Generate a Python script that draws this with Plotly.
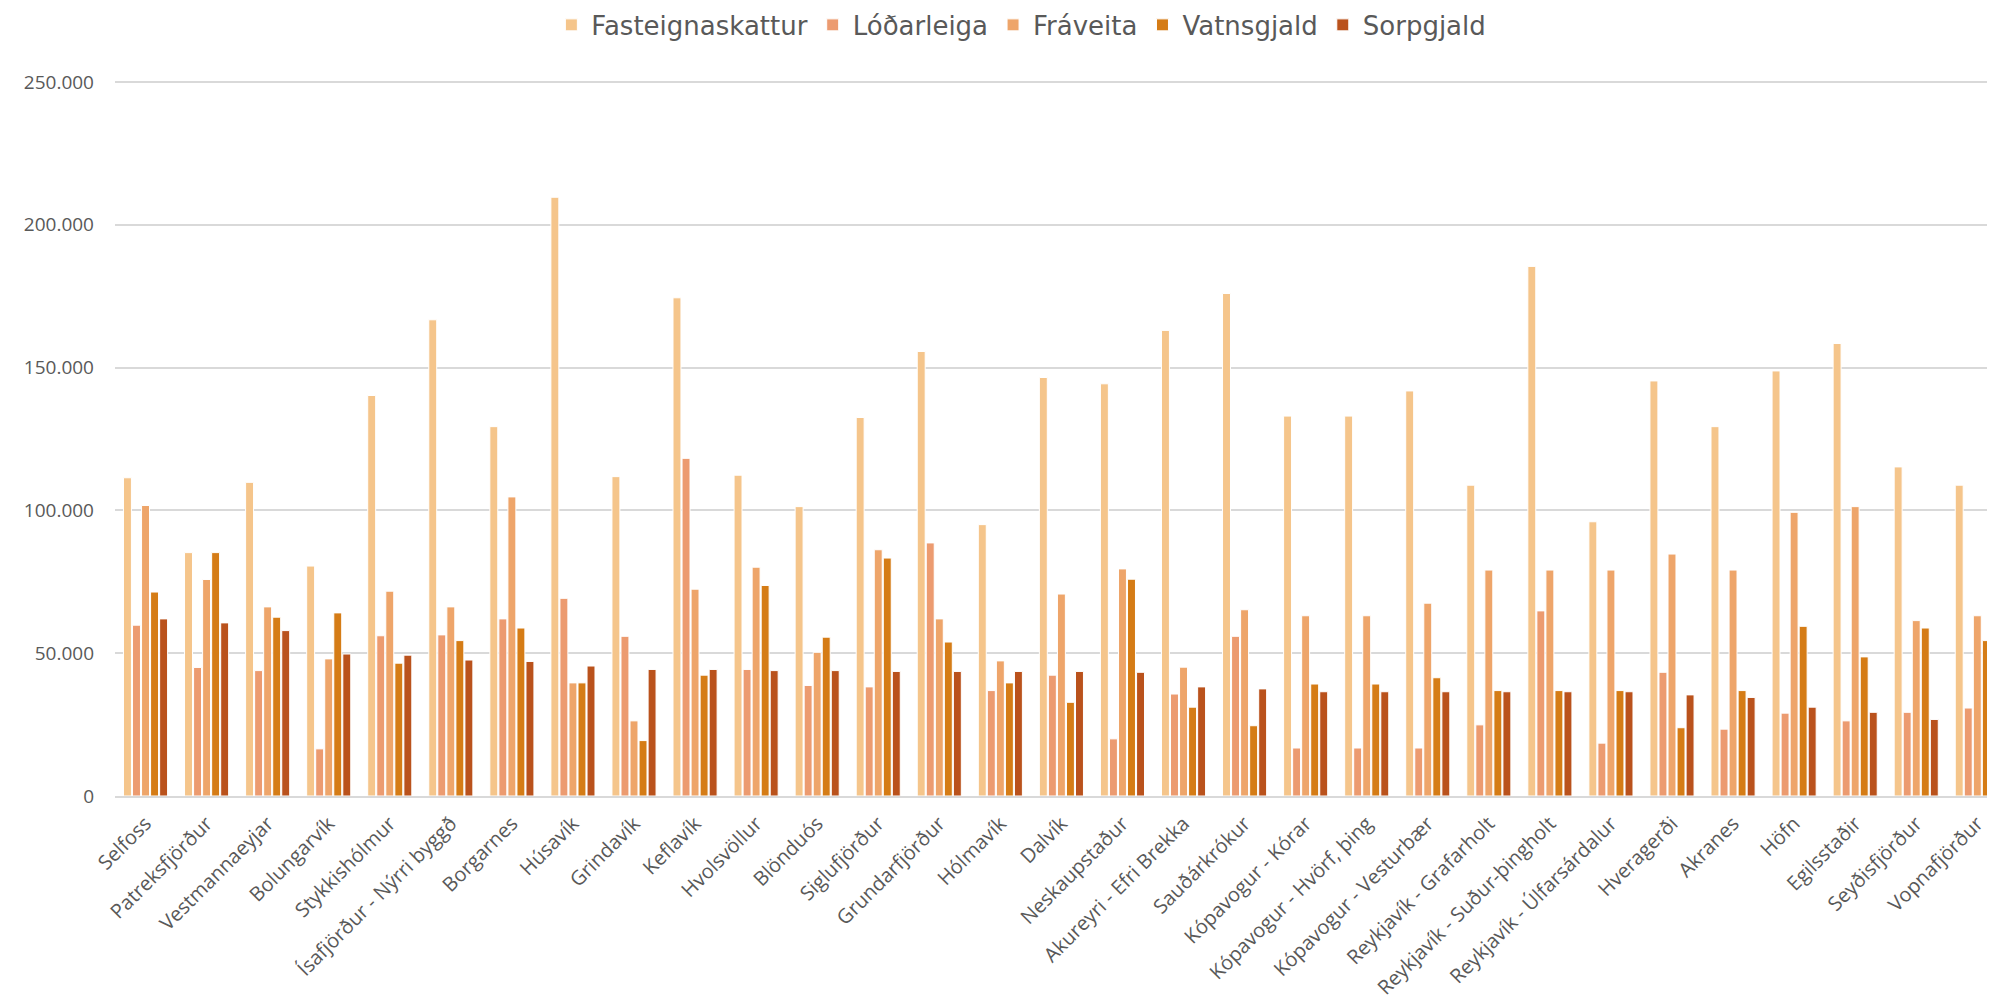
import plotly.graph_objects as go

# Staðir (flokkar á x-ás)
stadir = [
    "Selfoss", "Patreksfjörður", "Vestmannaeyjar", "Bolungarvík", "Stykkishólmur",
    "Ísafjörður - Nýrri byggð", "Borgarnes", "Húsavík", "Grindavík", "Keflavík",
    "Hvolsvöllur", "Blönduós", "Siglufjörður", "Grundarfjörður", "Hólmavík",
    "Dalvík", "Neskaupstaður", "Akureyri - Efri Brekka", "Sauðárkrókur",
    "Kópavogur - Kórar", "Kópavogur - Hvörf, þing", "Kópavogur - Vesturbær",
    "Reykjavík - Grafarholt", "Reykjavík - Suður-þingholt", "Reykjavík - Úlfarsárdalur",
    "Hveragerði", "Akranes", "Höfn", "Egilsstaðir", "Seyðisfjörður", "Vopnafjörður",
]

fasteignaskattur = [111400, 85200, 109800, 80500, 140200, 166700, 129300, 209600, 111800, 174400,
                    112300, 101300, 132500, 155600, 95000, 146500, 144300, 163000, 175900,
                    133000, 133000, 141800, 108800, 185400, 96000, 145300, 129300, 148800,
                    158400, 115200, 108800]
lodarleiga = [59800, 45000, 43900, 16500, 56100, 56400, 62000, 69200, 55900, 118200,
              44300, 38700, 38200, 88600, 36900, 42300, 20000, 35700, 55900,
              16800, 16800, 16800, 24900, 64800, 18500, 43300, 23400, 29000,
              26300, 29300, 30800]
fraveita = [101700, 75800, 66200, 48000, 71700, 66200, 104700, 39600, 26300, 72400,
            80100, 50300, 86200, 62000, 47300, 70700, 79500, 45100, 65200,
            63100, 63100, 67500, 79100, 79100, 79100, 84700, 79100, 99300,
            101300, 61400, 63100]
vatnsgjald = [71400, 85200, 62600, 64100, 46500, 54400, 58800, 39600, 19400, 42300,
              73700, 55600, 83300, 53900, 39600, 32800, 75900, 31100, 24600,
              39200, 39200, 41400, 36900, 36900, 36900, 23900, 36900, 59400,
              48700, 58800, 54400]
sorpgjald = [62000, 60600, 57900, 49700, 49300, 47600, 47100, 45500, 44300, 44300,
             43900, 43900, 43600, 43600, 43600, 43600, 43300, 38200, 37500,
             36500, 36500, 36500, 36500, 36500, 36500, 35400, 34500, 31100,
             29300, 26800, 26300]

series = [
    ("Fasteignaskattur", fasteignaskattur, "#F5C58B"),
    ("Lóðarleiga", lodarleiga, "#EC9B70"),
    ("Fráveita", fraveita, "#EEA56A"),
    ("Vatnsgjald", vatnsgjald, "#D57C16"),
    ("Sorpgjald", sorpgjald, "#BA521C"),
]

fig = go.Figure()
for nafn, gildi, litur in series:
    fig.add_trace(go.Bar(
        x=stadir, y=gildi, name=nafn,
        marker=dict(color=litur, line=dict(color="white", width=1)),
    ))

# síðan hefur 8px spássíu, svo myndin er aðeins minni en glugginn
fig.update_layout(
    width=1987, height=998,
    barmode="group", bargap=0.26, bargroupgap=0.12,
    plot_bgcolor="white", paper_bgcolor="white",
    separators=",.",
    font=dict(family="Open Sans", color="#595959"),
    margin=dict(l=107, r=0, t=71, b=210),
    legend=dict(orientation="h", xref="container", x=0.51, xanchor="center",
                yref="container", y=0.983, yanchor="middle",
                font=dict(family="DejaVu Sans", size=26, color="#595959"),
                traceorder="normal"),
    xaxis=dict(range=[-0.5, 30.29], tickangle=-45, tickfont=dict(size=20),
               showline=True, linecolor="#D9D9D9", linewidth=2, ticks="",
               automargin=False, ticklabelstandoff=6),
    yaxis=dict(range=[0, 251000], tickvals=[0, 50000, 100000, 150000, 200000, 250000],
               tickformat=",d", tickfont=dict(size=19), gridcolor="#D9D9D9", gridwidth=1.5,
               zeroline=False, ticks="", ticklabelstandoff=20, automargin=False),
)

fig.write_html("out.html")
